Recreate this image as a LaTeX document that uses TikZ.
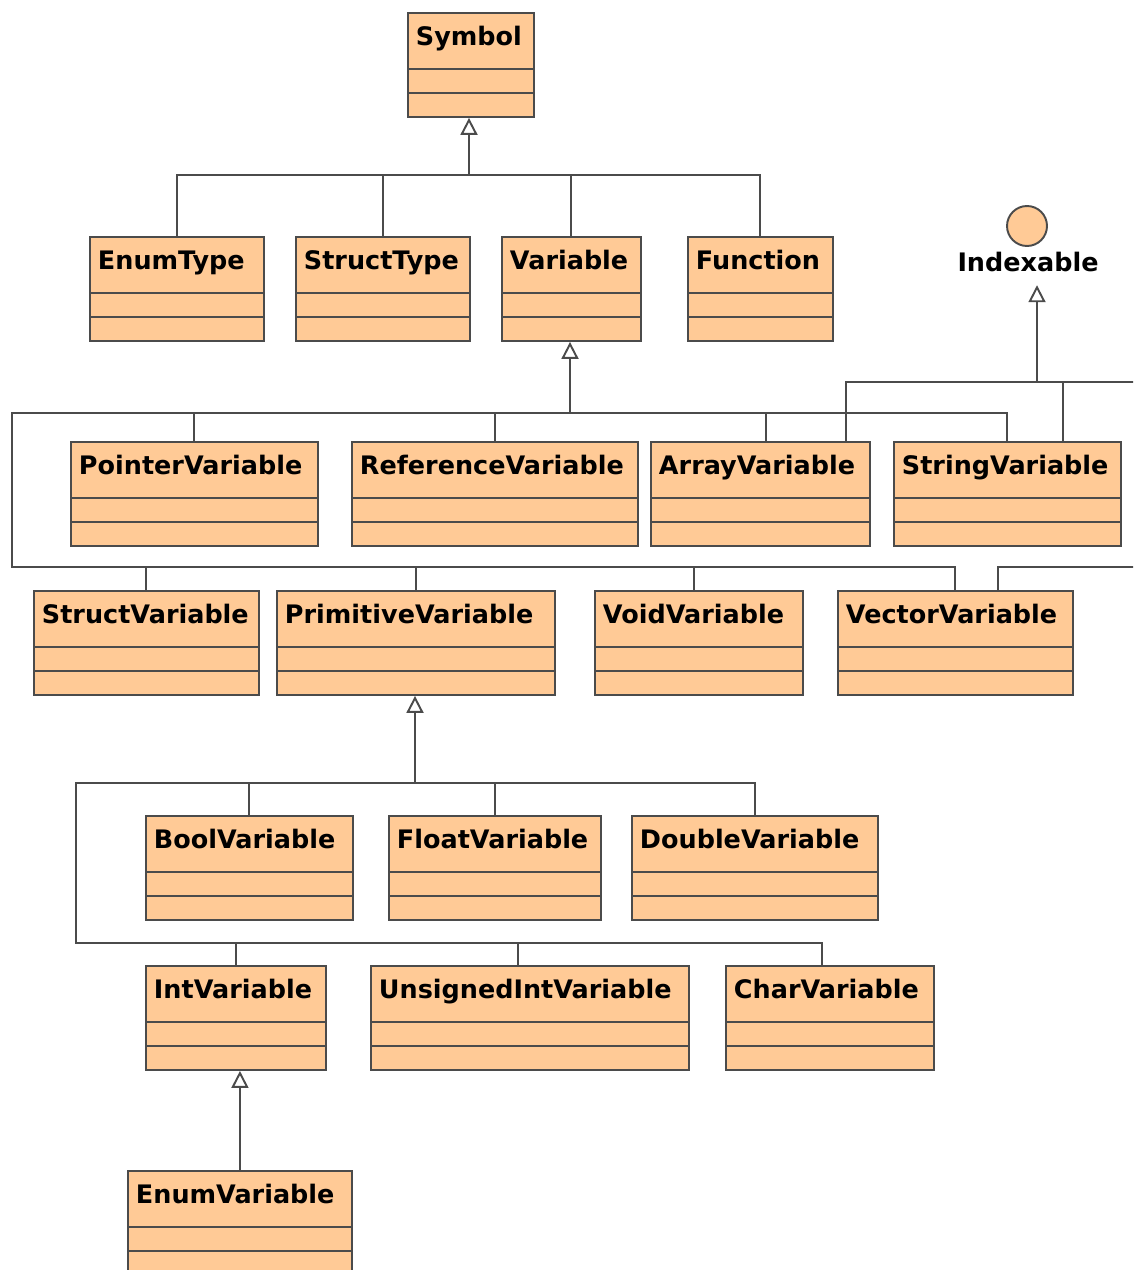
\documentclass[tikz,border=0pt]{standalone}
\usepackage{fontspec}
\usepackage{tikz}
\usetikzlibrary{positioning,shapes,arrows.meta,calc}
\newfontfamily\umlfont{DejaVu Sans}
\definecolor{peach}{RGB}{255,202,150}
\definecolor{edgegray}{RGB}{75,75,75}
\tikzstyle{cls}=[%
      rectangle, anchor=north west, draw=edgegray, line width=1.1pt, fill=peach,
      inner xsep=0.16cm, inner ysep=0pt, text height=0.66cm, text depth=1.42cm, align=left,
      font=\umlfont\bfseries\fontsize{14.5pt}{17pt}\selectfont,
      path picture={\draw[edgegray, line width=1.1pt]
        ([yshift=-1.12cm]path picture bounding box.north west) -- ([yshift=-1.12cm]path picture bounding box.north east)
        ([yshift=-1.6cm]path picture bounding box.north west) -- ([yshift=-1.6cm]path picture bounding box.north east);}
]
\tikzstyle{iface}=[%
      circle, draw=edgegray, line width=1.1pt, fill=peach, minimum size=0.8cm, inner sep=0pt
]
\tikzstyle{gen}=[%
      draw=edgegray, line width=1.1pt, -{Triangle[open, length=0.34cm, width=0.34cm]}
]
\tikzstyle{bus}=[draw=edgegray, line width=1.1pt]

\begin{document}
\begin{tikzpicture}[x=0.02cm, y=-0.02cm]
    \path[use as bounding box, fill=white] (0,0) rectangle (1133,1270);
    \clip (0,0) rectangle (1133,1270);

    \node[cls, text width=2.20cm] (symbol)       at (407,12)   {Symbol};

    \node[cls, text width=3.16cm] (enumtype)     at (89,236)   {EnumType};
    \node[cls, text width=3.16cm] (structtype)   at (295,236)  {StructType};
    \node[cls, text width=2.46cm] (variable)     at (501,236)  {Variable};
    \node[cls, text width=2.58cm] (function)     at (687,236)  {Function};

    \node[iface]                  (indexable)    at (1027,226) {};
    \node[font=\umlfont\bfseries\fontsize{14.5pt}{17pt}\selectfont, inner xsep=0pt, inner ysep=0.26cm]
                                  (indexname)    at (1028,262) {Indexable};

    \node[cls, text width=4.62cm] (pointervar)   at (70,441)   {PointerVariable};
    \node[cls, text width=5.40cm] (referencevar) at (351,441)  {ReferenceVariable};
    \node[cls, text width=4.06cm] (arrayvar)     at (650,441)  {ArrayVariable};
    \node[cls, text width=4.22cm] (stringvar)    at (893,441)  {StringVariable};

    \node[cls, text width=4.18cm] (structvar)    at (33,590)   {StructVariable};
    \node[cls, text width=5.24cm] (primitivevar) at (276,590)  {PrimitiveVariable};
    \node[cls, text width=3.84cm] (voidvar)      at (594,590)  {VoidVariable};
    \node[cls, text width=4.38cm] (vectorvar)    at (837,590)  {VectorVariable};

    \node[cls, text width=3.82cm] (boolvar)      at (145,815)  {BoolVariable};
    \node[cls, text width=3.92cm] (floatvar)     at (388,815)  {FloatVariable};
    \node[cls, text width=4.60cm] (doublevar)    at (631,815)  {DoubleVariable};

    \node[cls, text width=3.28cm] (intvar)       at (145,965)  {IntVariable};
    \node[cls, text width=6.04cm] (unsignedvar)  at (370,965)  {UnsignedIntVariable};
    \node[cls, text width=3.84cm] (charvar)      at (725,965)  {CharVariable};

    \node[cls, text width=4.16cm] (enumvar)      at (127,1170) {EnumVariable};

    \coordinate (symj)   at (469,175);
    \coordinate (varj)   at (570,413);
    \coordinate (varl)   at (12,413);
    \coordinate (varl2)  at (12,567);
    \coordinate (idxj)   at (1037,382);
    \coordinate (idxr)   at (1145,382);
    \coordinate (idxr2)  at (1145,567);
    \coordinate (primj)  at (415,783);
    \coordinate (priml)  at (76,783);
    \coordinate (priml2) at (76,943);

    \draw[gen] (symj) -- (symj |- symbol.south);
    \draw[bus] (enumtype.north) |- (symj)
               (structtype.north) |- (symj)
               (variable.north) |- (symj)
               (function.north) |- (symj);

    \draw[gen] (varj) -- (varj |- variable.south);
    \draw[bus] (pointervar.north) |- (varj)
               (referencevar.north) |- (varj)
               ([xshift=0.11cm]arrayvar.north) |- (varj)
               (stringvar.north) |- (varj);
    \draw[bus] (varj) -- (varl) -- (varl2) -| (structvar.north)
               (varl2) -| (primitivevar.north)
               (varl2) -| ([xshift=-0.1cm]voidvar.north)
               (varl2) -| (vectorvar.north);

    \draw[gen] (idxj) -- (idxj |- indexname.south);
    \draw[bus] ([xshift=1.71cm]arrayvar.north) |- (idxj)
               ([xshift=1.11cm]stringvar.north) |- (idxj);
    \draw[bus] (idxj) -- (idxr) -- (idxr2) -| ([xshift=0.85cm]vectorvar.north);

    \draw[gen] (primj) -- (primj |- primitivevar.south);
    \draw[bus] (boolvar.north) |- (primj)
               (floatvar.north) |- (primj)
               (doublevar.north) |- (primj);
    \draw[bus] (primj) -- (priml) -- (priml2) -| (intvar.north)
               (priml2) -| ([xshift=-0.24cm]unsignedvar.north)
               (priml2) -| ([xshift=-0.16cm]charvar.north);

    \draw[gen] (enumvar.north) -- (enumvar.north |- intvar.south);
\end{tikzpicture}
\end{document}
